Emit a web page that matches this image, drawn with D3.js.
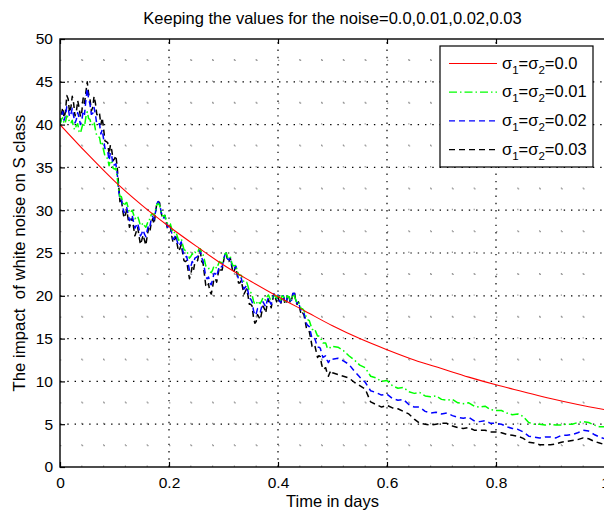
<!DOCTYPE html>
<html>
<head>
<meta charset="utf-8">
<script src="https://cdn.jsdelivr.net/npm/d3@7"></script>
<style>
  html, body { margin: 0; padding: 0; background: #fff; }
  svg { display: block; font-family: "Liberation Sans", Arial, Helvetica, sans-serif; }
</style>
</head>
<body>
<svg id="chart" width="604" height="510"></svg>
<script>
// Sampling grid: 0.0025 days up to 0.5, then 0.01 days to the end.
const days = d3.range(0, 200).map(i => i * 0.0025)
  .concat(d3.range(0, 51).map(i => 0.5 + i * 0.01));

// Deterministic solution (no noise)
const redDays = [0, 0.05, 0.1, 0.15, 0.2, 0.25, 0.3, 0.35, 0.4, 0.45, 0.5,
                 0.55, 0.6, 0.65, 0.7, 0.75, 0.8, 0.85, 0.9, 0.95, 1.0];
const noise00 = [40, 36.6, 33.4, 30.6, 28.1, 25.8, 23.6, 21.7, 19.9, 18.2, 16.5,
                 15.0, 13.7, 12.5, 11.5, 10.5, 9.6, 8.8, 8.0, 7.3, 6.7];

// sigma1 = sigma2 = 0.01
const noise01 = [
  40, 40.6, 40.8, 40.1, 40.3, 41.0, 40.9, 40.2, 40.2, 40.5,
  39.6, 39.4, 39.9, 40.1, 39.2, 39.0, 39.6, 40.2, 39.8, 40.9,
  41.5, 40.7, 40.6, 40.0, 40.0, 40.3, 39.4, 38.7, 38.6, 38.5,
  37.6, 37.8, 37.0, 36.3, 36.2, 36.0, 35.2, 35.8, 35.6, 34.9,
  34.8, 34.9, 33.8, 32.4, 31.6, 31.6, 31.0, 30.5, 30.8, 30.9,
  30.3, 29.7, 29.8, 30.0, 29.5, 29.0, 29.2, 29.3, 28.8, 28.2,
  28.3, 28.5, 28.2, 28.0, 28.4, 28.9, 28.9, 29.5, 29.6, 29.4,
  29.9, 30.6, 30.8, 30.6, 30.0, 29.4, 29.3, 29.4, 28.8, 28.4,
  28.5, 28.4, 27.8, 27.3, 27.4, 27.5, 27.0, 26.5, 26.6, 26.7,
  26.0, 25.4, 25.3, 25.3, 24.8, 24.4, 24.6, 24.9, 24.8, 25.1,
  25.0, 25.0, 25.5, 25.5, 25.0, 24.8, 24.2, 23.5, 23.3, 23.3,
  22.8, 22.7, 23.0, 23.5, 23.4, 23.2, 23.6, 24.0, 23.9, 23.9,
  24.3, 24.9, 25.0, 24.5, 24.4, 24.6, 23.9, 23.5, 23.5, 23.6,
  23.0, 22.5, 22.4, 22.4, 22.0, 21.6, 21.6, 21.6, 21.1, 20.5,
  20.4, 20.1, 19.4, 19.0, 19.0, 19.4, 19.2, 19.1, 19.4, 19.8,
  19.6, 19.5, 19.9, 20.1, 19.7, 19.5, 19.8, 20.2, 19.9, 19.7,
  20.2, 19.7, 19.5, 20.0, 19.9, 19.4, 19.4, 20.0, 19.9, 19.5,
  19.6, 20.2, 20.0, 19.5, 19.2, 19.3, 18.9, 18.5, 18.5, 18.3,
  17.9, 17.4, 17.2, 17.1, 16.6, 16.1, 16.0, 16.1, 15.7, 15.3,
  15.3, 15.2, 14.8, 14.5, 14.5, 14.5, 14.0, 13.8, 13.9, 14.1,
  14.1, 14.0, 13.6, 13.0, 12.5, 11.9, 11.6, 10.6, 10.4, 10.0,
  10.1, 9.5, 9.2, 9.3, 8.8, 8.6, 8.7, 8.3, 8.2, 8.3,
  7.9, 7.8, 7.9, 7.5, 7.4, 7.5, 7.1, 7.0, 7.1, 6.7,
  6.6, 6.6, 6.3, 6.1, 6.2, 5.9, 5.2, 5.0, 5.0, 4.9,
  5.0, 4.9, 4.9, 5.0, 5.0, 5.2, 5.3, 5.2, 4.9, 4.7,
  4.7
];

// sigma1 = sigma2 = 0.02
const noise02 = [
  40, 40.9, 41.5, 40.5, 41.0, 42.1, 42.0, 40.9, 41.2, 41.9,
  41.0, 40.2, 40.6, 41.4, 40.8, 40.0, 40.5, 41.6, 41.2, 42.9,
  44.2, 43.0, 42.4, 41.2, 41.3, 42.0, 41.2, 40.0, 40.0, 40.1,
  38.9, 39.4, 38.3, 37.2, 37.0, 36.9, 35.8, 36.7, 36.3, 35.2,
  35.3, 35.4, 34.3, 32.4, 31.2, 31.3, 30.4, 29.7, 30.0, 30.3,
  29.5, 28.8, 29.0, 29.4, 28.6, 27.9, 28.2, 28.5, 27.8, 27.0,
  27.3, 27.7, 27.2, 26.9, 27.6, 28.3, 28.1, 29.0, 29.3, 28.9,
  29.7, 30.7, 31.0, 30.8, 30.0, 29.2, 29.1, 29.3, 28.6, 28.0,
  28.2, 28.2, 27.3, 26.6, 26.8, 27.1, 26.4, 25.8, 26.0, 26.3,
  25.4, 24.6, 24.5, 24.6, 23.8, 23.0, 23.4, 24.0, 23.8, 24.4,
  24.5, 24.6, 25.2, 25.3, 24.4, 24.1, 23.2, 22.2, 22.0, 22.2,
  21.5, 21.3, 21.9, 22.6, 22.6, 22.3, 22.9, 23.5, 23.4, 23.4,
  24.1, 24.8, 25.0, 24.3, 24.2, 24.5, 23.7, 23.1, 23.2, 23.5,
  22.7, 21.9, 21.9, 22.1, 21.4, 20.8, 21.0, 21.2, 20.5, 19.7,
  19.6, 19.3, 18.3, 17.7, 17.9, 18.5, 18.3, 18.1, 18.7, 19.3,
  19.0, 18.7, 19.4, 19.8, 19.3, 19.0, 19.6, 20.2, 19.9, 19.6,
  20.1, 19.4, 19.2, 20.0, 20.0, 19.3, 19.2, 20.1, 20.0, 19.4,
  19.5, 20.3, 20.3, 19.5, 19.1, 19.3, 18.7, 18.2, 18.2, 18.0,
  17.4, 16.7, 16.5, 16.4, 15.7, 15.0, 14.9, 15.0, 14.5, 14.0,
  14.0, 13.9, 13.3, 12.8, 12.9, 13.0, 12.5, 12.2, 12.5, 12.7,
  12.6, 12.7, 12.4, 12.0, 11.2, 10.5, 9.9, 8.9, 8.7, 8.4,
  8.5, 8.0, 7.8, 7.9, 7.3, 7.0, 7.0, 6.5, 6.3, 6.4,
  6.2, 6.3, 6.0, 5.8, 5.7, 5.8, 5.4, 5.3, 5.4, 5.1,
  5.1, 5.0, 4.7, 4.5, 4.4, 4.1, 3.6, 3.5, 3.4, 3.5,
  3.5, 3.4, 3.7, 3.7, 3.8, 4.0, 4.3, 4.2, 3.8, 3.5,
  3.3
];

// sigma1 = sigma2 = 0.03
const noise03 = [
  40, 41.2, 42.0, 40.8, 41.5, 43.4, 43.0, 41.4, 42.0, 43.3,
  42.5, 41.0, 41.5, 42.8, 42.0, 40.9, 41.5, 43.1, 42.5, 43.8,
  45.0, 43.6, 43.0, 41.6, 42.0, 43.3, 42.5, 41.2, 41.0, 41.3,
  40.0, 40.8, 39.5, 38.1, 38.0, 37.9, 36.5, 37.6, 37.0, 35.8,
  36.0, 36.4, 35.0, 33.0, 31.0, 31.4, 30.0, 29.1, 29.5, 30.0,
  29.0, 28.0, 28.5, 29.1, 28.0, 27.0, 27.5, 28.0, 27.0, 26.0,
  26.5, 27.1, 26.5, 25.9, 27.0, 27.9, 27.5, 28.6, 29.0, 28.4,
  29.5, 30.8, 31.0, 30.9, 30.0, 29.1, 29.0, 29.4, 28.5, 27.8,
  28.0, 28.1, 27.0, 26.2, 26.5, 26.9, 26.0, 25.2, 25.5, 26.0,
  25.0, 24.1, 24.0, 24.1, 23.0, 22.0, 22.5, 23.4, 23.0, 23.9,
  24.0, 24.1, 25.0, 25.2, 24.0, 23.8, 22.5, 21.2, 21.0, 21.4,
  20.5, 20.2, 21.0, 22.0, 22.0, 21.6, 22.5, 23.3, 23.0, 23.0,
  24.0, 24.9, 25.0, 24.0, 24.0, 24.4, 23.5, 22.7, 23.0, 23.4,
  22.5, 21.5, 21.5, 21.8, 21.0, 20.2, 20.5, 20.8, 20.0, 19.0,
  19.0, 18.8, 17.5, 16.8, 17.0, 17.8, 17.5, 17.2, 18.0, 18.8,
  18.5, 18.0, 19.0, 19.6, 19.0, 18.6, 19.5, 20.2, 19.8, 19.3,
  20.0, 19.2, 19.0, 19.9, 20.0, 19.1, 19.0, 20.1, 20.0, 19.2,
  19.5, 20.4, 20.5, 19.4, 19.0, 19.3, 18.5, 17.8, 18.0, 17.8,
  17.0, 16.1, 16.0, 15.8, 15.0, 14.1, 14.0, 14.2, 13.5, 12.8,
  13.0, 12.9, 12.0, 11.4, 11.5, 11.6, 11.0, 10.6, 11.0, 11.3,
  11.0, 10.8, 10.6, 10.4, 9.9, 9.5, 9.1, 7.6, 7.3, 7.0,
  7.2, 6.9, 6.8, 6.5, 6.2, 5.6, 5.1, 5.0, 4.9, 5.0,
  5.1, 5.1, 4.8, 4.6, 4.5, 4.6, 4.3, 4.3, 4.3, 4.1,
  4.1, 4.0, 3.8, 3.7, 3.6, 3.35, 2.9, 2.8, 2.6, 2.6,
  2.6, 2.7, 2.9, 3.0, 3.1, 3.2, 3.4, 3.3, 3.0, 2.8,
  2.6
];

const xTicks = [0, 0.2, 0.4, 0.6, 0.8, 1];
const xTickLabels = ["0", "0.2", "0.4", "0.6", "0.8", "1"];
const yTicks = [0, 5, 10, 15, 20, 25, 30, 35, 40, 45, 50];
const legendLabels = ["0.0", "0.01", "0.02", "0.03"];

const titleText = "Keeping the values for the noise=0.0,0.01,0.02,0.03";
const xLabel = "Time in days";
const yLabel = "The impact  of white noise on S class";

// ---- layout ----
const svg = d3.select("#chart");
const plotL = 60, plotR = 605, plotT = 39, plotB = 467;

const x = d3.scaleLinear().domain([0, 1]).range([plotL, plotR]);
const y = d3.scaleLinear().domain([0, 50]).range([plotB, plotT]);

// clip region for the plot area
svg.append("defs").append("clipPath").attr("id", "plotClip")
  .append("rect").attr("x", plotL).attr("y", plotT)
  .attr("width", plotR - plotL).attr("height", plotB - plotT);

// ---- grid ----
const grid = svg.append("g").attr("class", "grid");
const minorX = d3.range(0, 26).map(i => i * 0.04).filter(v => Math.abs(v / 0.2 - Math.round(v / 0.2)) > 1e-6);
const minorY = d3.range(0, 21).map(i => i * 2.5).filter(v => v % 5 !== 0);

// minor grid: sparse grey dots
grid.selectAll("line.minx").data(minorX).join("line")
  .attr("x1", d => x(d)).attr("x2", d => x(d))
  .attr("y1", plotB).attr("y2", plotT)
  .attr("stroke", "#9a9a9a").attr("stroke-width", 1.2)
  .attr("stroke-dasharray", "1.4,20");
grid.selectAll("line.miny").data(minorY).join("line")
  .attr("x1", plotL).attr("x2", plotR)
  .attr("y1", d => y(d)).attr("y2", d => y(d))
  .attr("stroke", "#9a9a9a").attr("stroke-width", 1.2)
  .attr("stroke-dasharray", "1.4,20.4");

// major grid: dense black dots
grid.selectAll("line.majx").data(xTicks.slice(1, -1)).join("line")
  .attr("x1", d => x(d)).attr("x2", d => x(d))
  .attr("y1", plotB).attr("y2", plotT)
  .attr("stroke", "#000").attr("stroke-width", 1.2)
  .attr("stroke-dasharray", "1.4,5.9");
grid.selectAll("line.majy").data(yTicks.slice(1, -1)).join("line")
  .attr("x1", plotL).attr("x2", plotR)
  .attr("y1", d => y(d)).attr("y2", d => y(d))
  .attr("stroke", "#000").attr("stroke-width", 1.2)
  .attr("stroke-dasharray", "1.4,5.9");

// ---- series ----
const plot = svg.append("g").attr("clip-path", "url(#plotClip)");
const line = d3.line().x(d => x(d[0])).y(d => y(d[1]));

const series = [
  { vals: noise01, color: "#00ff00", dash: "8,3,1.5,3", width: 1.5 },
  { vals: noise02, color: "#0000ff", dash: "6,4", width: 1.5 },
  { vals: noise03, color: "#000000", dash: "6,4", width: 1.5 }
];
// draw the noisiest first so lighter-noise curves sit on top
series.slice().reverse().forEach(s => {
  plot.append("path")
    .datum(days.map((t, i) => [t, s.vals[i]]))
    .attr("d", line)
    .attr("fill", "none")
    .attr("stroke", s.color)
    .attr("stroke-width", s.width)
    .attr("stroke-linejoin", "round")
    .attr("stroke-dasharray", s.dash);
});

plot.append("path")
  .datum(redDays.map((t, i) => [t, noise00[i]]))
  .attr("d", d3.line().x(d => x(d[0])).y(d => y(d[1])).curve(d3.curveMonotoneX))
  .attr("fill", "none")
  .attr("stroke", "#ff0000")
  .attr("stroke-width", 1.1);

// ---- axes box and ticks ----
const axes = svg.append("g");
axes.append("rect")
  .attr("x", plotL).attr("y", plotT)
  .attr("width", plotR - plotL).attr("height", plotB - plotT)
  .attr("fill", "none").attr("stroke", "#000").attr("stroke-width", 1.4);

const xAxis = d3.axisBottom(x).tickValues(xTicks)
  .tickFormat((d, i) => xTickLabels[i]).tickSizeInner(-5).tickSizeOuter(0).tickPadding(10);
const gx = axes.append("g").attr("transform", `translate(0,${plotB})`).call(xAxis);

const xAxisTop = d3.axisTop(x).tickValues(xTicks).tickFormat("").tickSizeInner(-5).tickSizeOuter(0);
const gxt = axes.append("g").attr("transform", `translate(0,${plotT})`).call(xAxisTop);

const yAxis = d3.axisLeft(y).tickValues(yTicks).tickSizeInner(-5).tickSizeOuter(0).tickPadding(7);
const gy = axes.append("g").attr("transform", `translate(${plotL},0)`).call(yAxis);

[gx, gxt, gy].forEach(g => {
  g.select(".domain").remove();
  g.selectAll(".tick line").attr("stroke", "#000").attr("stroke-width", 1.2);
  g.selectAll(".tick text").attr("fill", "#000")
    .style("font-family", '"Liberation Sans", Arial, sans-serif').style("font-size", "15.5px");
});

// ---- legend ----
const lg = svg.append("g");
const lx = 440, ly = 46, lw = 153, lh = 121;
lg.append("rect").attr("x", lx).attr("y", ly).attr("width", lw).attr("height", lh)
  .attr("fill", "#fff").attr("stroke", "#000").attr("stroke-width", 1.2);

const legendStyles = [
  { color: "#ff0000", dash: null },
  { color: "#00ff00", dash: "8,3,1.5,3" },
  { color: "#0000ff", dash: "6,4" },
  { color: "#000000", dash: "6,4" }
];
legendLabels.forEach((lab, i) => {
  const cy = 63.5 + i * 28.7;
  const st = legendStyles[i];
  const ln = lg.append("line").attr("x1", 449).attr("x2", 497)
    .attr("y1", cy).attr("y2", cy)
    .attr("stroke", st.color).attr("stroke-width", 1.2);
  if (st.dash) ln.attr("stroke-dasharray", st.dash);
  const tx = lg.append("text").attr("x", 502).attr("y", cy + 5)
    .style("font-size", "16.5px").attr("fill", "#000");
  tx.append("tspan").text("σ");
  tx.append("tspan").attr("dy", 5).style("font-size", "11.5px").text("1");
  tx.append("tspan").attr("dy", -5).text("=σ");
  tx.append("tspan").attr("dy", 5).style("font-size", "11.5px").text("2");
  tx.append("tspan").attr("dy", -5).text("=" + lab);
});

// ---- titles ----
svg.append("text").attr("x", (plotL + plotR) / 2).attr("y", 24)
  .attr("text-anchor", "middle").style("font-size", "16.5px").text(titleText);
svg.append("text").attr("x", (plotL + plotR) / 2).attr("y", 507)
  .attr("text-anchor", "middle").style("font-size", "16.5px").text(xLabel);
svg.append("text")
  .attr("transform", `translate(25,${(plotT + plotB) / 2}) rotate(-90)`)
  .attr("text-anchor", "middle").style("font-size", "16.8px")
  .style("white-space", "pre").attr("xml:space", "preserve").text(yLabel);
</script>
</body>
</html>
